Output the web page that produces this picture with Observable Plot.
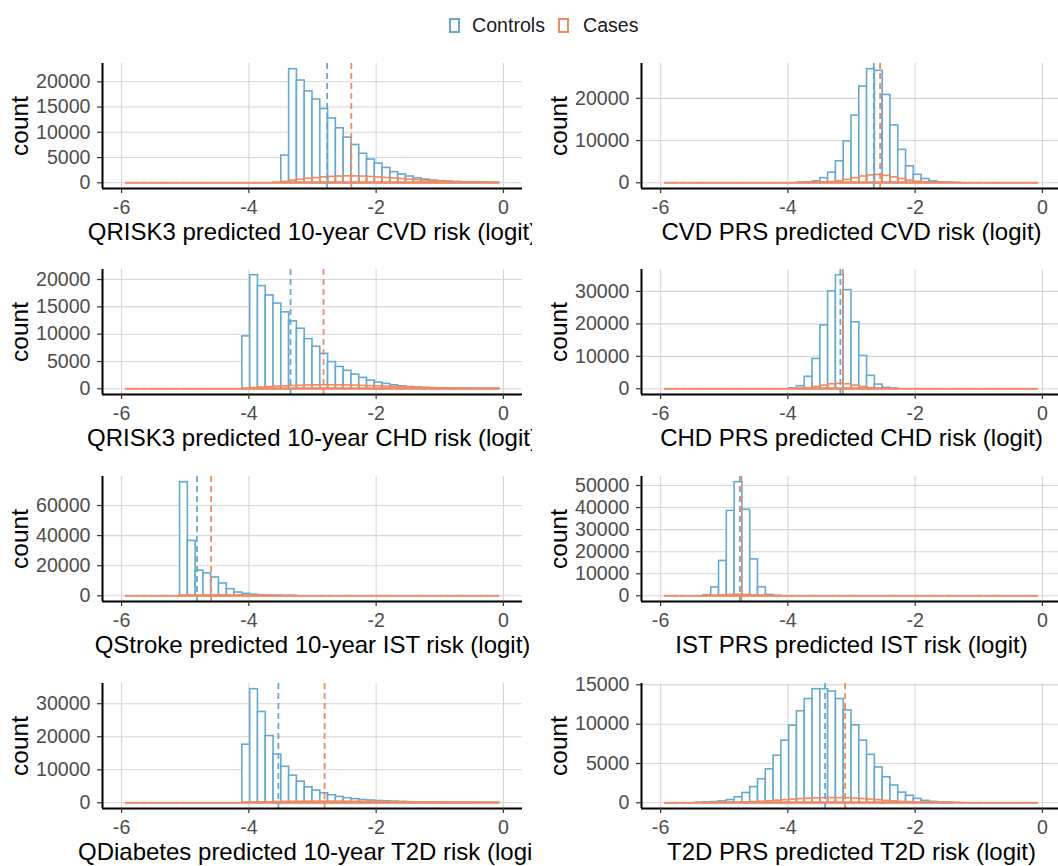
<!DOCTYPE html>
<html>
<head>
<meta charset="utf-8">
<script src="https://cdn.jsdelivr.net/npm/d3@7"></script>
<script src="https://cdn.jsdelivr.net/npm/@observablehq/plot@0.6"></script>
<style>
  html, body { margin: 0; padding: 0; background: #fff; }
  #root { position: relative; width: 1058px; height: 866px; overflow: hidden; background: #fff;
          font-family: "Liberation Sans", Arial, Helvetica, sans-serif; }
  .cell { position: absolute; overflow: hidden; }
  .cell svg { display: block; }
  .key { position: absolute; box-sizing: border-box; width: 11px; height: 15px; border: 2px solid; background: #fff; }
  .lab { position: absolute; font-size: 19.6px; line-height: 20px; color: #1a1a1a; white-space: nowrap; }
</style>
</head>
<body>
<div id="root"></div>
<script>
// ---------------- data ----------------
const seriesNames = ["Controls", "Cases"];
const BLUE = "#67a9cf", ORANGE = "#ef8a62";

// histogram bins: limits [-6, 0], 50 bins (edge bins dropped by the limits) -> 48 kept bins
const X_LIMITS = [-6, 0];
const N_BINS = 50;
const xTicks = [-6, -4, -2, 0];

const panelTitles = [
  "QRISK3 predicted 10-year CVD risk (logit)",
  "CVD PRS predicted CVD risk (logit)",
  "QRISK3 predicted 10-year CHD risk (logit)",
  "CHD PRS predicted CHD risk (logit)",
  "QStroke predicted 10-year IST risk (logit)",
  "IST PRS predicted IST risk (logit)",
  "QDiabetes predicted 10-year T2D risk (logit)",
  "T2D PRS predicted T2D risk (logit)"
];

// counts per bin (bins 1..48), rows of 12 bins
const cvdQriskControls = [
  0,0,0,0,0,0,0,0,0,0,0,0,
  0,0,0,0,0,0,0,0,5400,22500,20250,18100,
  16500,14600,12750,10800,8950,7500,5750,4600,3800,2950,2100,1650,
  1250,900,650,450,320,220,150,100,60,35,20,10];
const cvdQriskCases = [
  0,0,0,0,0,0,0,0,0,0,0,0,
  0,0,0,0,0,0,0,30,200,450,650,800,
  950,1080,1180,1250,1280,1270,1230,1160,1070,970,860,750,
  640,540,440,350,270,200,140,90,55,30,15,6];

const cvdPrsControls = [
  0,0,0,0,0,0,0,0,0,0,0,0,
  0,0,0,0,0,30,120,350,1100,2400,5100,9800,
  15900,22800,26900,26500,20800,13600,7800,3900,1900,900,350,120,
  40,10,0,0,0,0,0,0,0,0,0,0];
const cvdPrsCases = [
  0,0,0,0,0,0,0,0,0,0,0,0,
  0,0,0,0,0,5,12,30,90,200,400,700,
  1100,1500,1750,1850,1650,1300,900,520,270,120,50,20,
  5,0,0,0,0,0,0,0,0,0,0,0];

const chdQriskControls = [
  0,0,0,0,0,0,0,0,0,0,0,0,
  0,0,0,9600,20800,18800,17100,15600,14000,12350,11000,9100,
  7700,6400,4900,4000,3300,2600,2000,1500,1140,900,650,450,
  330,230,160,110,80,50,30,20,12,7,4,2];
const chdQriskCases = [
  0,0,0,0,0,0,0,0,0,0,0,0,
  0,0,0,40,150,250,330,400,460,520,570,610,
  640,650,650,640,620,590,550,500,450,400,340,290,
  240,190,150,115,85,60,40,27,17,10,5,2];

const chdPrsControls = [
  0,0,0,0,0,0,0,0,0,0,0,0,
  0,0,0,0,150,800,3700,9200,19500,30000,35000,30400,
  20500,10100,4000,1300,300,60,0,0,0,0,0,0,
  0,0,0,0,0,0,0,0,0,0,0,0];
const chdPrsCases = [
  0,0,0,0,0,0,0,0,0,0,0,0,
  0,0,0,0,10,60,230,560,1000,1400,1550,1400,
  1000,560,240,80,20,5,0,0,0,0,0,0,
  0,0,0,0,0,0,0,0,0,0,0,0];

const istQstrokeControls = [
  0,0,0,0,0,0,0,75500,36500,16700,14900,12200,
  8200,4400,2200,1300,700,350,150,60,25,10,0,0,
  0,0,0,0,0,0,0,0,0,0,0,0,
  0,0,0,0,0,0,0,0,0,0,0,0];
const istQstrokeCases = [
  0,0,0,0,0,0,0,150,180,200,230,250,
  240,200,150,100,60,30,15,5,0,0,0,0,
  0,0,0,0,0,0,0,0,0,0,0,0,
  0,0,0,0,0,0,0,0,0,0,0,0];

const istPrsControls = [
  0,0,0,0,0,300,3800,15800,38500,51500,39000,16500,
  3900,400,30,0,0,0,0,0,0,0,0,0,
  0,0,0,0,0,0,0,0,0,0,0,0,
  0,0,0,0,0,0,0,0,0,0,0,0];
const istPrsCases = [
  0,0,0,0,0,10,60,200,420,520,420,200,
  60,10,0,0,0,0,0,0,0,0,0,0,
  0,0,0,0,0,0,0,0,0,0,0,0,
  0,0,0,0,0,0,0,0,0,0,0,0];

const t2dQdiabetesControls = [
  0,0,0,0,0,0,0,0,0,0,0,0,
  0,0,0,17600,34400,27500,20200,14600,10900,8200,6400,4700,
  3700,2900,2300,1800,1400,1100,850,700,550,450,350,270,
  210,160,120,90,60,40,30,20,12,8,5,3];
const t2dQdiabetesCases = [
  0,0,0,0,0,0,0,0,0,0,0,0,
  0,0,0,30,90,150,200,240,280,310,330,345,
  355,360,360,355,345,330,310,290,265,240,210,180,
  150,125,100,80,60,45,32,22,14,8,4,2];

const t2dPrsControls = [
  0,0,0,0,20,50,100,180,350,700,1250,2000,
  3000,4250,6000,7900,9800,11650,13200,14450,14450,14150,13200,11750,
  9850,7900,6100,4500,3250,2200,1300,900,500,250,120,50,
  20,5,0,0,0,0,0,0,0,0,0,0];
const t2dPrsCases = [
  0,0,0,0,0,0,3,8,15,30,55,90,
  140,200,270,340,410,470,520,560,590,600,600,580,
  540,480,410,330,250,180,120,75,45,25,12,5,
  2,0,0,0,0,0,0,0,0,0,0,0];

// dashed reference lines (logit)
const controlLines = [-2.77, -2.65, -3.345, -3.175, -4.815, -4.755, -3.536, -3.415];
const caseLines    = [-2.39, -2.55, -2.827, -3.135, -4.593, -4.730, -2.81, -3.10];

// y-axis ticks per panel
const yTicksList = [
  [0, 5000, 10000, 15000, 20000],
  [0, 10000, 20000],
  [0, 5000, 10000, 15000, 20000],
  [0, 10000, 20000, 30000],
  [0, 20000, 40000, 60000],
  [0, 10000, 20000, 30000, 40000, 50000],
  [0, 10000, 20000, 30000],
  [0, 5000, 10000, 15000]
];

const controlsList = [cvdQriskControls, cvdPrsControls, chdQriskControls, chdPrsControls,
                      istQstrokeControls, istPrsControls, t2dQdiabetesControls, t2dPrsControls];
const casesList = [cvdQriskCases, cvdPrsCases, chdQriskCases, chdPrsCases,
                   istQstrokeCases, istPrsCases, t2dQdiabetesCases, t2dPrsCases];

// ---------------- layout ----------------
const FONT = '"Liberation Sans", Arial, Helvetica, sans-serif';
const FRAME_W = 420, FRAME_H = 125;
const M_TOP = 8, M_BOTTOM = 62;
const ROW_TOPS = [63, 269, 476, 683];
const SVG_W = 540;

const root = document.getElementById("root");

// legend
function legend() {
  const items = [
    {name: seriesNames[0], color: BLUE, keyX: 449, textX: 472},
    {name: seriesNames[1], color: ORANGE, keyX: 558, textX: 583}
  ];
  for (const it of items) {
    const k = document.createElement("div");
    k.className = "key";
    k.style.left = it.keyX + "px"; k.style.top = "18px"; k.style.borderColor = it.color;
    root.appendChild(k);
    const t = document.createElement("div");
    t.className = "lab";
    t.style.left = it.textX + "px"; t.style.top = "15px";
    t.textContent = it.name;
    root.appendChild(t);
  }
}
legend();

const binW = (X_LIMITS[1] - X_LIMITS[0]) / (N_BINS - 1);
function binRows(counts) {
  return counts.map((c, i) => {
    const k = i + 1;
    return {x1: X_LIMITS[0] + (k - 0.5) * binW, x2: X_LIMITS[0] + (k + 0.5) * binW, count: c};
  });
}
const expand = 0.05 * (X_LIMITS[1] - X_LIMITS[0]);
const xDomain = [X_LIMITS[0] - expand, X_LIMITS[1] + expand];

function drawPanel(i) {
  const col = i % 2, row = Math.floor(i / 2);
  const marginLeft = col === 0 ? 102 : 111;
  const marginRight = SVG_W - marginLeft - FRAME_W;
  const ctrl = binRows(controlsList[i]);
  const cases = binRows(casesList[i]);
  const ymax = d3.max(controlsList[i].concat(casesList[i]));
  const yDomain = [-0.05 * ymax, 1.05 * ymax];
  const chart = Plot.plot({
    width: SVG_W,
    height: M_TOP + FRAME_H + M_BOTTOM,
    marginTop: M_TOP, marginBottom: M_BOTTOM, marginLeft, marginRight,
    x: {domain: xDomain},
    y: {domain: yDomain},
    style: {fontFamily: FONT, fontSize: "19.6px", color: "#4d4d4d", background: "transparent", maxWidth: "none"},
    marks: [
      Plot.gridX(xTicks, {stroke: "#d6d6d6", strokeOpacity: 1, strokeWidth: 1.1}),
      Plot.gridY(yTicksList[i], {stroke: "#d6d6d6", strokeOpacity: 1, strokeWidth: 1.1}),
      Plot.rectY(ctrl.filter(d => d.count > 0), {x1: "x1", x2: "x2", y1: 0, y2: "count", fill: "white", stroke: BLUE, strokeWidth: 1.6}),
      Plot.rectY(cases.filter(d => d.count > 0), {x1: "x1", x2: "x2", y1: 0, y2: "count", fill: "none", stroke: ORANGE, strokeWidth: 1.6}),
      Plot.ruleY(cases, {x1: "x1", x2: "x2", y: 0, stroke: ORANGE, strokeWidth: 2}),
      Plot.ruleX([controlLines[i]], {stroke: BLUE, strokeWidth: 1.8, strokeDasharray: "6,4"}),
      Plot.ruleX([caseLines[i]], {stroke: ORANGE, strokeWidth: 1.8, strokeDasharray: "6,4"}),
      Plot.ruleX([xDomain[0]], {stroke: "black", strokeWidth: 2}),
      Plot.ruleY([yDomain[0]], {stroke: "black", strokeWidth: 2}),
      Plot.axisX(xTicks, {tickSize: 5, tickPadding: 7, label: null, tickFormat: d => String(d), stroke: "#333333", fill: "#4d4d4d", strokeWidth: 1.2}),
      Plot.axisY(yTicksList[i], {tickSize: 5, tickPadding: 7, label: null, tickFormat: d3.format("d"), stroke: "#333333", fill: "#4d4d4d", strokeWidth: 1.2}),
      Plot.text([panelTitles[i]], {frameAnchor: "bottom", dy: 44, fontSize: 24, fill: "black", lineAnchor: "middle", textAnchor: "middle"}),
      Plot.text(["count"], {frameAnchor: "left", dx: -82, rotate: -90, fontSize: 24.5, fill: "black", lineAnchor: "middle", textAnchor: "middle"})
    ]
  });
  const cell = document.createElement("div");
  cell.className = "cell";
  cell.style.left = (col === 0 ? 0 : 530) + "px";
  cell.style.top = (ROW_TOPS[row] - M_TOP) + "px";
  cell.style.width = (col === 0 ? 532 : 528) + "px";
  cell.style.height = (M_TOP + FRAME_H + M_BOTTOM) + "px";
  cell.appendChild(chart);
  root.appendChild(cell);
}

for (let i = 0; i < 8; i++) drawPanel(i);
</script>
</body>
</html>
